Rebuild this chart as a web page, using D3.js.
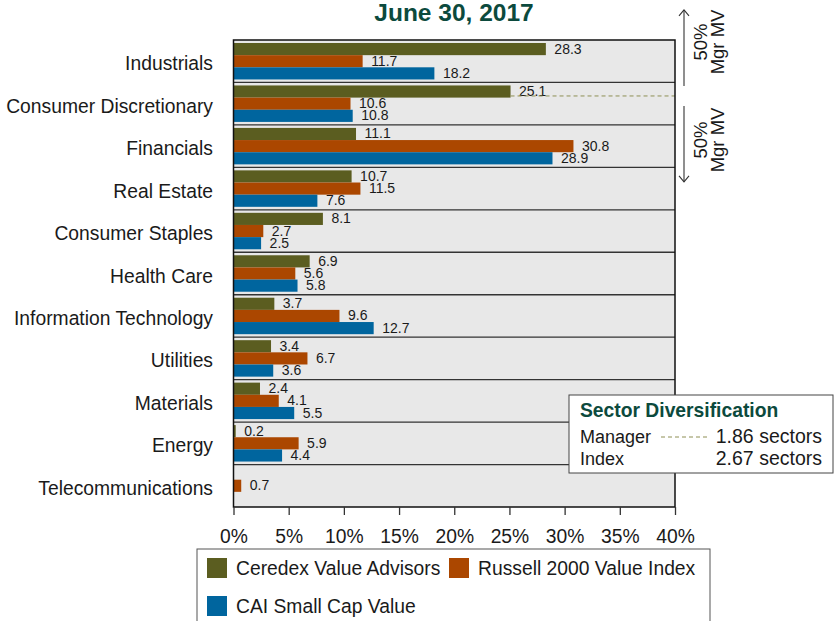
<!DOCTYPE html>
<html><head><meta charset="utf-8">
<script src="https://cdn.jsdelivr.net/npm/d3@7"></script>
<style>body{margin:0;background:#fff}svg{display:block;font-family:"Liberation Sans",Arial,sans-serif}</style>
</head><body>
<script>
const categories = ["Industrials","Consumer Discretionary","Financials","Real Estate","Consumer Staples","Health Care","Information Technology","Utilities","Materials","Energy","Telecommunications"];
const seriesNames = ["Ceredex Value Advisors","Russell 2000 Value Index","CAI Small Cap Value"];
const ceredex = [28.3,25.1,11.1,10.7,8.1,6.9,3.7,3.4,2.4,0.2,0];
const russell = [11.7,10.6,30.8,11.5,2.7,5.6,9.6,6.7,4.1,5.9,0.7];
const cai = [18.2,10.8,28.9,7.6,2.5,5.8,12.7,3.6,5.5,4.4,0];
const colors = ["#5b5d20","#ab4700","#00659e"];
const xTicks = [0,5,10,15,20,25,30,35,40];
const title = "June 30, 2017";
const boxTitle = "Sector Diversification";
const diversification = [["Manager","1.86 sectors"],["Index","2.67 sectors"]];
const mvLabel = ["50%","Mgr MV"];

const W=834,H=621, FS=19.3;
const svg=d3.select("body").append("svg").attr("width",W).attr("height",H);
const L=233.5,R=675,T=40,B=507;
const x=d3.scaleLinear().domain([0,40]).range([L,R]);
const y=d3.scaleBand().domain(categories).range([T,B]).padding(0);
const inner=d3.scaleBand().domain(d3.range(3)).range([3,y.bandwidth()-3]).padding(0);
const series=[ceredex,russell,cai];

svg.append("text").attr("x",454).attr("y",21).attr("text-anchor","middle")
  .attr("font-size",24.5).attr("font-weight","bold").attr("fill","#0c4a3d").text(title);

svg.append("rect").attr("x",L).attr("y",T).attr("width",R-L).attr("height",B-T).attr("fill","#e8e8e8");

// separators
svg.selectAll(".sep").data(categories.slice(1)).join("line")
  .attr("x1",L).attr("x2",R).attr("y1",d=>y(d)).attr("y2",d=>y(d))
  .attr("stroke","#333").attr("stroke-width",1.3);

// category labels
svg.selectAll(".cat").data(categories).join("text")
  .attr("x",213).attr("y",d=>y(d)+y.bandwidth()/2+9).attr("text-anchor","end")
  .attr("font-size",FS).attr("fill","#1a1a1a").text(d=>d);

// dashed 50% line
let cum=0, dashY=null, dashX=null;
for(let i=0;i<categories.length;i++){
  const v=ceredex[i];
  if(cum+v>=50){const f=(50-cum)/v; dashY=y(categories[i])+inner(0)+f*inner.bandwidth(); dashX=x(v); break;}
  cum+=v;
}

// bars + labels
series.forEach((vals,s)=>{
  const g=svg.append("g");
  categories.forEach((c,i)=>{
    const v=vals[i]; if(!v) return;
    const by=y(c)+inner(s);
    g.append("rect").attr("x",x(0)).attr("y",by).attr("width",x(v)-x(0)).attr("height",inner.bandwidth()).attr("fill",colors[s]);
    g.append("text").attr("x",x(v)+8.5).attr("y",by+inner.bandwidth()/2+4.5)
      .attr("font-size",14).attr("fill","#1a1a1a").text(d3.format(".1f")(v));
  });
});

svg.append("line").attr("x1",dashX).attr("x2",R).attr("y1",dashY).attr("y2",dashY)
  .attr("stroke","#8e8f55").attr("stroke-width",1).attr("stroke-dasharray","4,3");

svg.append("rect").attr("x",L).attr("y",T).attr("width",R-L).attr("height",B-T)
  .attr("fill","none").attr("stroke","#111").attr("stroke-width",1.5);

// x axis
const ax=svg.append("g").attr("transform",`translate(0,${B})`)
  .call(d3.axisBottom(x).tickValues(xTicks).tickFormat(d=>d+"%").tickSize(8).tickPadding(14));
ax.select(".domain").remove();
ax.selectAll("line").attr("stroke","#333").attr("stroke-width",1.3);
ax.selectAll("text").attr("font-size",FS).attr("fill","#1a1a1a").attr("font-family","Liberation Sans, Arial, sans-serif");

// arrows
const ax0=684;
const arr=svg.append("g").attr("stroke","#333").attr("stroke-width",1.1).attr("fill","none");
arr.append("line").attr("x1",ax0).attr("x2",ax0).attr("y1",dashY-10).attr("y2",dashY-86);
arr.append("path").attr("d",`M${ax0-5},${dashY-80}L${ax0},${dashY-86}L${ax0+5},${dashY-80}`);
arr.append("line").attr("x1",ax0).attr("x2",ax0).attr("y1",dashY+10).attr("y2",dashY+86);
arr.append("path").attr("d",`M${ax0-5},${dashY+80}L${ax0},${dashY+86}L${ax0+5},${dashY+80}`);
[[dashY-54],[dashY+44]].forEach(([cy])=>{
  const t=svg.append("text").attr("transform",`translate(707,${cy}) rotate(-90)`)
    .attr("text-anchor","middle").attr("font-size",18.5).attr("fill","#1a1a1a");
  t.append("tspan").attr("x",0).attr("dy",0).text(mvLabel[0]);
  t.append("tspan").attr("x",0).attr("dy",17).text(mvLabel[1]);
});

// diversification box
const bx=569,by0=395;
svg.append("rect").attr("x",bx).attr("y",by0).attr("width",264).attr("height",78)
  .attr("fill","#fff").attr("stroke","#444").attr("stroke-width",1);
svg.append("text").attr("x",580).attr("y",417).attr("font-size",FS).attr("font-weight","bold")
  .attr("fill","#0c4a3d").text(boxTitle);
diversification.forEach((r,i)=>{
  const yy=443+i*22;
  svg.append("text").attr("x",580).attr("y",yy).attr("font-size",18).attr("fill","#1a1a1a").text(r[0]);
  svg.append("text").attr("x",822).attr("y",yy).attr("text-anchor","end").attr("font-size",19.5).attr("fill","#1a1a1a").text(r[1]);
});
svg.append("line").attr("x1",661).attr("x2",707).attr("y1",437).attr("y2",437)
  .attr("stroke","#8e8f55").attr("stroke-width",1).attr("stroke-dasharray","4,3");

// legend
svg.append("rect").attr("x",197).attr("y",549).attr("width",513).attr("height",90)
  .attr("fill","#fff").attr("stroke","#555").attr("stroke-width",1);
const legPos=[[207,558],[449,558],[207,596]];
seriesNames.forEach((n,i)=>{
  const [lx,ly]=legPos[i];
  svg.append("rect").attr("x",lx).attr("y",ly).attr("width",20).attr("height",20).attr("fill",colors[i]);
  svg.append("text").attr("x",lx+29).attr("y",ly+17).attr("font-size",FS).attr("fill","#1a1a1a").text(n);
});
</script>
</body></html>
